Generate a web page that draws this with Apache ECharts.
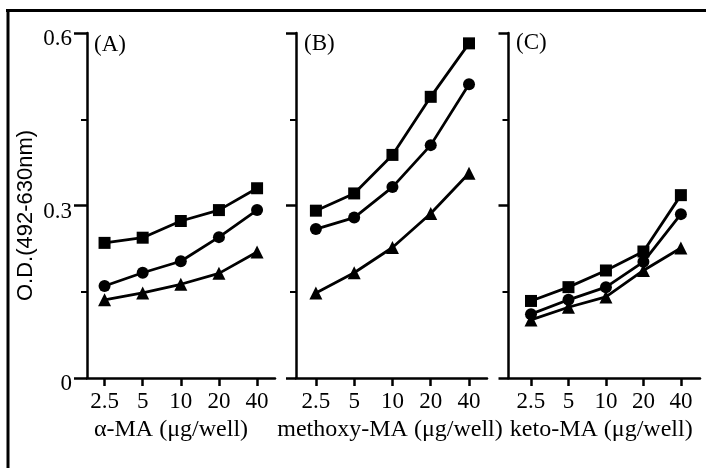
<!DOCTYPE html>
<html>
<head>
<meta charset="utf-8">
<script src="https://cdn.jsdelivr.net/npm/echarts@6/dist/echarts.min.js"></script>
<style>
  html, body { margin: 0; padding: 0; background: #fff; }
  #chart { width: 706px; height: 468px; }
</style>
</head>
<body>
<div id="chart"></div>
<script>
// Dose levels on the x axis (µg/well)
const doses = ['2.5', '5', '10', '20', '40'];
// O.D. tick labels on the y axis
const odTicks = [0, 0.3, 0.6];

// Panel titles and axis titles
const panelTags = ['(A)', '(B)', '(C)'];
const xTitles = ['α-MA (μg/well)', 'methoxy-MA (μg/well)', 'keto-MA (μg/well)'];
const yTitle = 'O.D.(492-630nm)';

// (A) α-MA
const alphaSquare   = [0.235, 0.244, 0.273, 0.292, 0.330];
const alphaCircle   = [0.160, 0.183, 0.203, 0.245, 0.292];
const alphaTriangle = [0.136, 0.148, 0.163, 0.182, 0.219];
// (B) methoxy-MA
const methoxySquare   = [0.291, 0.321, 0.388, 0.489, 0.582];
const methoxyCircle   = [0.259, 0.279, 0.332, 0.405, 0.511];
const methoxyTriangle = [0.148, 0.183, 0.227, 0.286, 0.356];
// (C) keto-MA
const ketoSquare   = [0.134, 0.158, 0.187, 0.220, 0.318];
const ketoCircle   = [0.111, 0.136, 0.158, 0.202, 0.285];
const ketoTriangle = [0.101, 0.123, 0.141, 0.187, 0.226];

const panels = [
  { sq: alphaSquare, ci: alphaCircle, tr: alphaTriangle },
  { sq: methoxySquare, ci: methoxyCircle, tr: methoxyTriangle },
  { sq: ketoSquare, ci: ketoCircle, tr: ketoTriangle }
];

// Layout of the three plot frames
const frames = [
  { left: 87,    width: 188,   min: -0.46, max: 4.47, tickLen: 13, nameShift: 20 },
  { left: 296,   width: 191,   min: -0.52, max: 4.47, tickLen: 10, nameShift: 3 },
  { left: 508.5, width: 191.5, min: -0.60, max: 4.51, tickLen: 10, nameShift: 6 }
];
const TOP = 33, HEIGHT = 345;

const serif = 'Liberation Serif';
const sans = 'Liberation Sans';
const ink = '#000';

const toPoints = arr => arr.map((v, i) => [i, v]);
const doseIdx = doses.map((d, i) => i);

const grid = [], xAxis = [], yAxis = [], series = [];

frames.forEach((f, k) => {
  grid.push({ left: f.left, top: TOP, width: f.width, height: HEIGHT, containLabel: false });

  xAxis.push({
    type: 'value', gridIndex: k, min: f.min, max: f.max,
    splitLine: { show: false },
    axisLine: { show: true, onZero: false, lineStyle: { color: ink, width: 2.5 } },
    axisTick: { show: true, length: 8, inside: false, customValues: doseIdx,
                lineStyle: { color: ink, width: 2.5 } },
    axisLabel: { show: true, customValues: doseIdx, margin: 12,
                 fontFamily: serif, fontSize: 23, color: ink,
                 formatter: v => doses[Math.round(v)] },
    name: xTitles[k], nameLocation: 'middle', nameGap: 38,
    nameTextStyle: { fontFamily: serif, fontSize: 24, color: ink,
                     padding: [0, f.nameShift, 0, 0] }
  });

  const y = {
    type: 'value', gridIndex: k, min: 0, max: 0.6, interval: 0.3,
    splitLine: { show: false },
    axisLine: { show: true, onZero: false, lineStyle: { color: ink, width: 2.5 } },
    axisTick: { show: true, length: f.tickLen, lineStyle: { color: ink, width: 2.5 } },
    minorTick: { show: true, splitNumber: 2, length: 6, lineStyle: { color: ink, width: 2 } },
    axisLabel: { show: k === 0, margin: 15, fontFamily: serif, fontSize: 23, color: ink,
                 verticalAlign: 'top', lineHeight: 12,
                 formatter: v => {
                   const t = odTicks.find(x => Math.abs(x - v) < 1e-6);
                   return t === undefined ? '' : String(t);
                 } }
  };
  if (k === 0) {
    y.name = yTitle;
    y.nameLocation = 'middle';
    y.nameRotate = 90;
    y.nameGap = 50;
    y.nameTextStyle = { fontFamily: sans, fontSize: 22, color: ink, padding: [0, 20, 0, 0] };
  }
  yAxis.push(y);

  const p = panels[k];
  const mk = (name, data, symbol, size) => ({
    name, type: 'line', xAxisIndex: k, yAxisIndex: k,
    data: toPoints(data), symbol, symbolSize: size, showSymbol: true,
    lineStyle: { color: ink, width: 2.8 },
    itemStyle: { color: ink, borderWidth: 0 },
    emphasis: { disabled: true }, animation: false, z: 3
  });
  series.push(mk('square', p.sq, 'rect', 12));
  series.push(mk('circle', p.ci, 'circle', 12));
  series.push(mk('triangle', p.tr, 'triangle', 13));
});

// Panel tags and the outer frame lines
const graphic = [
  { type: 'text', left: 94, top: 33, style: { text: panelTags[0], font: '23px "Liberation Serif"', fill: ink } },
  { type: 'text', left: 304, top: 32, style: { text: panelTags[1], font: '23px "Liberation Serif"', fill: ink } },
  { type: 'text', left: 516, top: 31, style: { text: panelTags[2], font: '23px "Liberation Serif"', fill: ink } },
  { type: 'line', shape: { x1: 6, y1: 10.5, x2: 706, y2: 10.5 }, style: { stroke: ink, lineWidth: 3 } },
  { type: 'line', shape: { x1: 8, y1: 9, x2: 8, y2: 468 }, style: { stroke: ink, lineWidth: 3 } }
];

const chart = echarts.init(document.getElementById('chart'), null, { renderer: 'canvas' });
chart.setOption({
  backgroundColor: '#fff',
  animation: false,
  grid, xAxis, yAxis, series, graphic
});
</script>
</body>
</html>
